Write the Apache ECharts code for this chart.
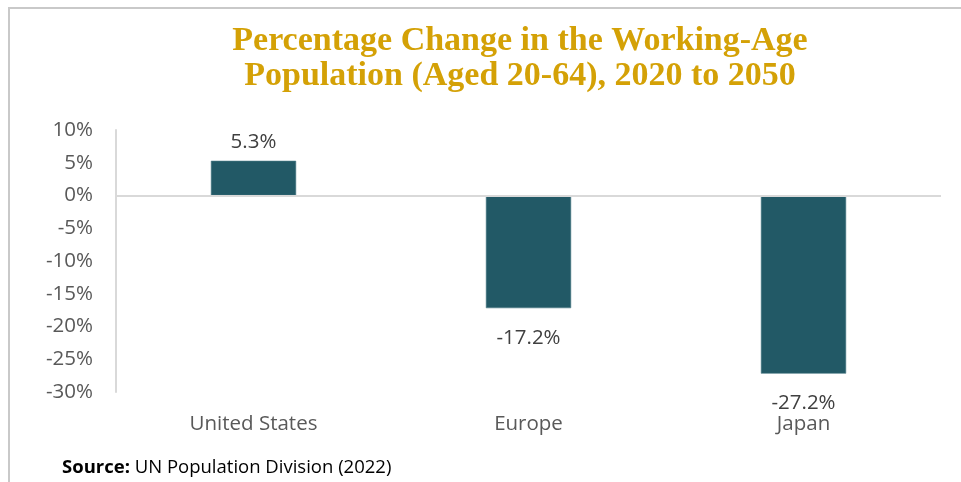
<!DOCTYPE html>
<html>
<head>
<meta charset="utf-8">
<script src="https://cdn.jsdelivr.net/npm/echarts@6/dist/echarts.min.js"></script>
<style>
  html, body { margin: 0; padding: 0; background: #ffffff; }
  #chart { width: 961px; height: 482px; }
</style>
</head>
<body>
<div id="chart"></div>
<script>
// Working-age population change by region, 2020 to 2050 (percent)
const regions = ['United States', 'Europe', 'Japan'];
const changePct = [5.3, -17.2, -27.2];
const yTicks = { min: -30, max: 10, step: 5 };

const chart = echarts.init(document.getElementById('chart'), null, { renderer: 'canvas' });

const barColor = '#225966';
const labelFont = '"Open Sans", "Noto Sans", sans-serif';

chart.setOption({
  animation: false,
  backgroundColor: '#ffffff',
  title: {
    text: 'Percentage Change in the Working-Age\nPopulation (Aged 20-64), 2020 to 2050',
    left: 515,
    top: 19,
    textAlign: 'center',
    textStyle: {
      fontFamily: '"Liberation Serif", "DejaVu Serif", serif',
      fontWeight: 'bold',
      fontSize: 34,
      lineHeight: 35,
      color: '#D4A106'
    }
  },
  grid: { left: 116, right: 20, top: 130, bottom: 90, containLabel: false },
  xAxis: {
    type: 'category',
    data: regions,
    position: 'bottom',
    axisLine: { show: false },
    axisTick: { show: false },
    axisLabel: {
      color: '#595959',
      fontFamily: labelFont,
      fontSize: 20.5,
      margin: 22
    }
  },
  yAxis: {
    type: 'value',
    min: yTicks.min,
    max: yTicks.max,
    interval: yTicks.step,
    axisLine: { show: true, lineStyle: { color: '#d9d9d9', width: 2 } },
    axisTick: { show: false },
    splitLine: { show: false },
    axisLabel: {
      color: '#595959',
      fontFamily: labelFont,
      fontSize: 20.5,
      margin: 23,
      formatter: v => v + '%'
    }
  },
  series: [{
    type: 'bar',
    data: changePct.map(v => ({
      value: v,
      label: {
        position: v >= 0 ? 'top' : 'bottom',
        distance: v >= 0 ? 8 : 19
      }
    })),
    barWidth: '31%',
    itemStyle: { color: barColor, borderColor: '#4d7c88', borderWidth: 0.6 },
    label: {
      show: true,
      color: '#404040',
      fontFamily: labelFont,
      fontSize: 20.5,
      formatter: p => p.value.toFixed(1) + '%'
    },
    markLine: {
      silent: true,
      symbol: 'none',
      label: { show: false },
      lineStyle: { color: '#d9d9d9', width: 2, type: 'solid' },
      data: [{ yAxis: 0 }]
    }
  }],
  graphic: [
    {
      type: 'polyline',
      shape: { points: [[9, 482], [9, 8], [961, 8]] },
      style: { stroke: '#c9c9c9', lineWidth: 2, fill: null },
      silent: true
    },
    {
      type: 'text',
      left: 62,
      top: 458,
      style: {
        text: '{b|Source:} UN Population Division (2022)',
        rich: {
          b: { fontWeight: 'bold', fontSize: 18.5, fontFamily: labelFont, fill: '#000000' }
        },
        fontSize: 18.5,
        fontFamily: labelFont,
        fill: '#000000'
      }
    }
  ]
});
</script>
</body>
</html>
